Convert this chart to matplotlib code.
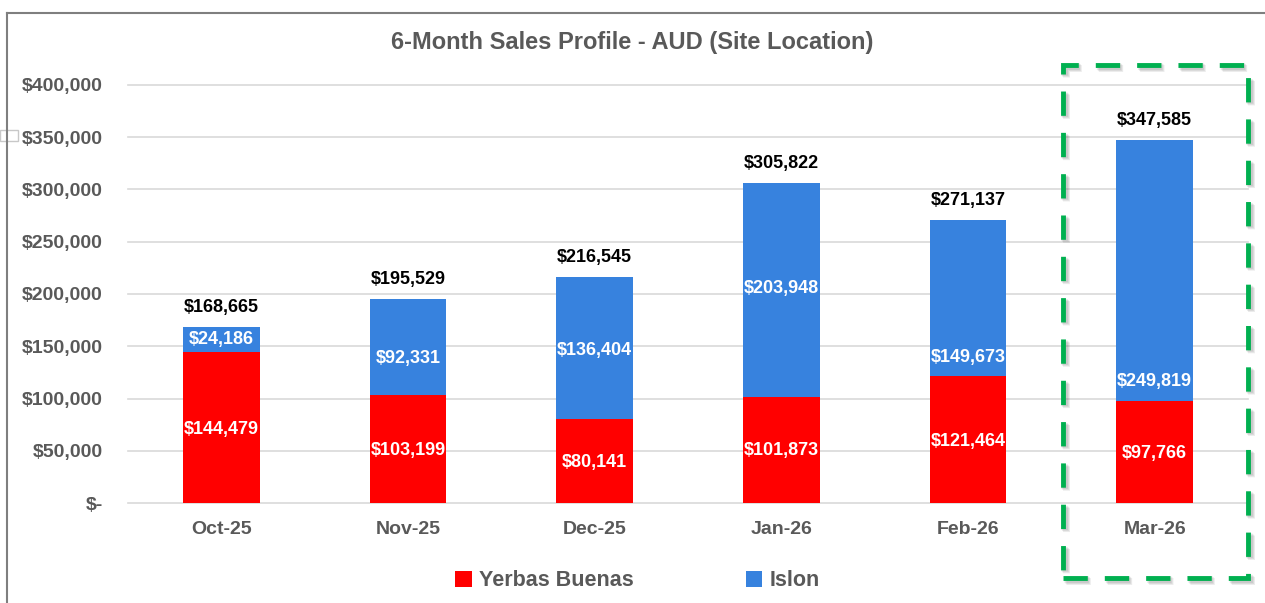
import matplotlib.pyplot as plt
import matplotlib.patches as patches
import numpy as np

### DATA
months = ["Oct-25", "Nov-25", "Dec-25", "Jan-26", "Feb-26", "Mar-26"]
yerbas = [144479, 103199, 80141, 101873, 121464, 97766]
islon = [24186, 92331, 136404, 203948, 149673, 249819]
totals = [168665, 195529, 216545, 305822, 271137, 347585]   # as printed on the chart
# where Excel put the segment labels (value on the y axis)
yerbas_lbl_y = [70800, 50700, 38300, 50700, 58400, 47800]
islon_lbl_y = [156000, 137800, 145500, 204800, 139700, 115800]

RED = "#FF0000"
BLUE = "#3782DE"
GREY = "#595959"
FONT = ["Liberation Sans Narrow", "Liberation Sans", "DejaVu Sans"]

plt.rcParams['font.family'] = FONT
plt.rcParams['font.weight'] = 'bold'

fig = plt.figure(figsize=(12.65, 6.03), dpi=100)
ax = fig.add_axes([128 / 1265, 1 - 503 / 603, (1248 - 128) / 1265, (503 - 85) / 603])

x = np.arange(len(months))
ax.bar(x, yerbas, width=0.41, color=RED, zorder=3, label="Yerbas Buenas")
ax.bar(x, islon, width=0.41, bottom=yerbas, color=BLUE, zorder=3, label="Islon")

for i in range(len(months)):
    ax.text(x[i], yerbas_lbl_y[i], "${:,}".format(yerbas[i]), ha='center', va='center',
            color='white', fontsize=13, fontweight='bold', zorder=4)
    ax.text(x[i], islon_lbl_y[i], "${:,}".format(islon[i]), ha='center', va='center',
            color='white', fontsize=13, fontweight='bold', zorder=4)
    ax.annotate("${:,}".format(totals[i]), (x[i], yerbas[i] + islon[i]), xytext=(0, 8),
                textcoords='offset points', ha='center', va='bottom',
                color='black', fontsize=13, fontweight='bold')

ax.set_xlim(-0.5, len(months) - 0.5)
ax.set_ylim(0, 400000)
ax.set_yticks(np.arange(0, 400001, 50000))
ax.set_yticklabels(["$-"] + ["${:,}".format(v) for v in range(50000, 400001, 50000)])
ax.set_xticks(x)
ax.set_xticklabels(months)
ax.tick_params(axis='y', length=0, pad=18, labelsize=14, labelcolor=GREY)
ax.tick_params(axis='x', length=0, pad=13, labelsize=14, labelcolor=GREY)
for s in ax.spines.values():
    s.set_visible(False)
ax.grid(axis='y', color='#D9D9D9', linewidth=1.2, zorder=0, clip_on=False)
ax.set_axisbelow(True)

fig.text(0.5, 1 - 43 / 603, "6-Month Sales Profile - AUD (Site Location)", ha='center',
         va='center', color=GREY, fontsize=17, fontweight='bold')

leg = ax.legend(loc='center', bbox_to_anchor=(0.455, (503 - 581) / 418), ncol=2, frameon=False,
                fontsize=15.5, handlelength=0.75, handleheight=0.75, columnspacing=5.2,
                handletextpad=0.35)
for t in leg.get_texts():
    t.set_color(GREY)
    t.set_fontweight('bold')

# outer chart border (top and left visible)
fig.add_artist(plt.Line2D([7 / 1265, 7 / 1265], [0, 1 - 13 / 603], color='#7F7F7F',
                          linewidth=1.5, transform=fig.transFigure))
fig.add_artist(plt.Line2D([7 / 1265, 1], [1 - 13 / 603, 1 - 13 / 603], color='#7F7F7F',
                          linewidth=1.5, transform=fig.transFigure))
fig.add_artist(patches.Rectangle((0, 1 - 141 / 603), 18 / 1265, 11 / 603, fill=False,
                                 edgecolor='#C8C8C8', linewidth=1, transform=fig.transFigure))

# green dashed highlight box with soft shadow
bx, by, bw, bh = 1063 / 1265, 1 - 578 / 603, (1248 - 1063) / 1265, (578 - 65) / 603
lw_box, lw_sh = 3.5, 5.0
dash = (5 * lw_box, 3.5 * lw_box)
for k in range(3):
    sh = patches.Rectangle((bx + (1 + k) / 1265, by - (1 + k) / 603), bw, bh, fill=False,
                           edgecolor='#404040', linewidth=lw_sh, alpha=0.10,
                           linestyle=(0, (dash[0] / lw_sh, dash[1] / lw_sh)),
                           transform=fig.transFigure)
    fig.add_artist(sh)
box = patches.Rectangle((bx, by), bw, bh, fill=False, edgecolor='#00B050', linewidth=lw_box,
                        linestyle=(0, (dash[0] / lw_box, dash[1] / lw_box)),
                        transform=fig.transFigure)
fig.add_artist(box)

fig.savefig("out.png", dpi=100)
